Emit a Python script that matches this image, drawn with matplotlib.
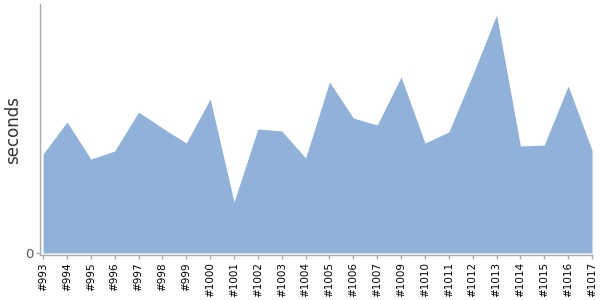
import matplotlib
matplotlib.use("Agg")
import matplotlib.pyplot as plt

builds = ['#993', '#994', '#995', '#996', '#997', '#998', '#999', '#1000',
          '#1001', '#1002', '#1003', '#1004', '#1005', '#1006', '#1007',
          '#1009', '#1010', '#1011', '#1012', '#1013', '#1014', '#1015',
          '#1016', '#1017']
durations = [99, 131, 94, 102, 141, 125, 110, 154, 51, 124, 122, 95, 171,
             135, 128, 176, 110, 121, 178, 238, 107, 108, 167, 103]

fig = plt.figure(figsize=(6, 3), dpi=100)
ax = fig.add_axes([40 / 600, 45 / 300, 552 / 600, 251 / 300])

x = list(range(len(builds)))
ax.fill_between(x, durations, 0, color='#90b2da', linewidth=0)

ax.set_xlim(-0.13, len(builds) - 1)
ax.set_ylim(-2, 249)
ax.set_xticks(x)
ax.set_xticklabels(builds, rotation=90, fontsize=7.5)
ax.set_yticks([0])
ax.set_yticklabels(['0'], fontsize=9.5)
ax.set_ylabel('seconds', fontsize=12, color='#333333')
ax.yaxis.set_label_coords(-0.033, 0.5)

for side in ['top', 'right']:
    ax.spines[side].set_visible(False)
for side in ['left', 'bottom']:
    ax.spines[side].set_color('#aaaaaa')
    ax.spines[side].set_linewidth(1)
ax.tick_params(axis='both', colors='#aaaaaa', length=3, width=1, pad=2)
for lbl in ax.get_xticklabels():
    lbl.set_color('black')
for lbl in ax.get_yticklabels():
    lbl.set_color('#555555')

fig.savefig('out.png', dpi=100)
